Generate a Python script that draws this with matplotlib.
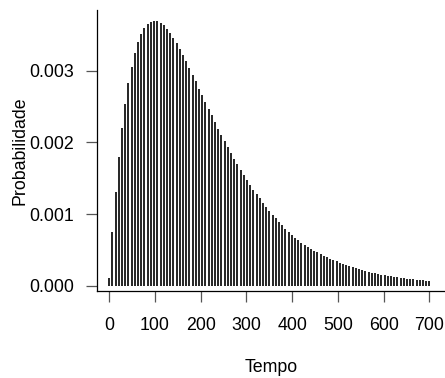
import numpy as np
import matplotlib
matplotlib.use("Agg")
import matplotlib.pyplot as plt

plt.rcParams["font.family"] = ["Liberation Sans", "DejaVu Sans"]

# tempo: 0, 7, ..., 700
tempo = np.arange(0, 701, 7)

# probabilidades (uma por barra)
prob = [
    0.000110, 0.000753, 0.001311, 0.001791, 0.002195, 0.002534, 0.002823, 0.003056,
    0.003250, 0.003394, 0.003510, 0.003590, 0.003650, 0.003682, 0.003696, 0.003692,
    0.003668, 0.003632, 0.003584, 0.003529, 0.003455, 0.003381, 0.003302, 0.003222,
    0.003134, 0.003040, 0.002939, 0.002851, 0.002748, 0.002658, 0.002560, 0.002467,
    0.002376, 0.002283, 0.002190, 0.002102, 0.002014, 0.001930, 0.001846, 0.001767,
    0.001693, 0.001618, 0.001544, 0.001474, 0.001404, 0.001339, 0.001279, 0.001219,
    0.001158, 0.001098, 0.001042, 0.000990, 0.000940, 0.000888, 0.000842, 0.000795,
    0.000753, 0.000711, 0.000669, 0.000633, 0.000598, 0.000565, 0.000537, 0.000512,
    0.000488, 0.000465, 0.000443, 0.000421, 0.000400, 0.000377, 0.000358, 0.000340,
    0.000321, 0.000303, 0.000284, 0.000270, 0.000256, 0.000242, 0.000228, 0.000214,
    0.000205, 0.000191, 0.000182, 0.000173, 0.000163, 0.000154, 0.000145, 0.000135,
    0.000131, 0.000121, 0.000117, 0.000107, 0.000103, 0.000098, 0.000093, 0.000089,
    0.000084, 0.000079, 0.000075, 0.000070, 0.000068,
]

W, H = 445, 378
fig = plt.figure(figsize=(W / 100, H / 100), dpi=100)

# posição do eixo em pixels
left, right, top, bottom = 96.7, 445.0, 10.0, 291.3
ax = fig.add_axes([left / W, 1 - bottom / H, (right - left) / W, (bottom - top) / H])

ax.vlines(tempo, 0, prob, color="black", linewidth=1.2)

ax.set_xlim(-27.5, 734)
ax.set_ylim(-0.000078, 0.003845)

ax.set_xticks([0, 100, 200, 300, 400, 500, 600, 700])
ax.set_yticks([0.000, 0.001, 0.002, 0.003])
ax.set_yticklabels(["0.000", "0.001", "0.002", "0.003"])

for s in ["top", "right"]:
    ax.spines[s].set_visible(False)
for s in ["left", "bottom"]:
    ax.spines[s].set_linewidth(0.9)
    ax.spines[s].set_color("black")

ax.tick_params(axis="both", direction="out", length=8.2, width=0.9,
               color="#555555", labelsize=12.8, pad=8)
ax.tick_params(axis="x", pad=10)

ax.set_xlabel("Tempo", fontsize=12.8)
ax.xaxis.set_label_coords(0.5, -(367.5 - bottom) / (bottom - top))
ax.xaxis.label.set_va("center")

ax.set_ylabel("Probabilidade", fontsize=12.8)
ax.yaxis.set_label_coords(-(left - 20.3) / (right - left), 0.5)
ax.yaxis.label.set_va("center")

fig.savefig("out.png", dpi=100)
